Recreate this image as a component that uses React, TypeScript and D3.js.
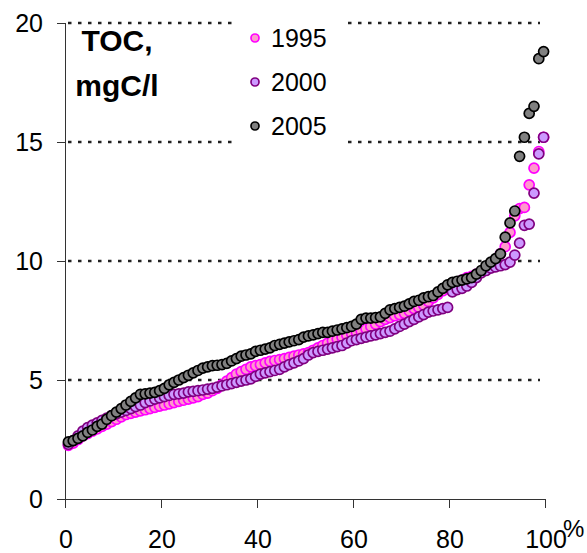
import React from "react";
import * as d3 from "d3";

const years = ["1995", "2000", "2005"];

const toc1995 = [
  2.25, 2.35, 2.5, 2.65, 2.75, 2.85, 2.95, 3.05, 3.15, 3.25,
  3.35, 3.45, 3.55, 3.6, 3.65, 3.7, 3.75, 3.8, 3.85, 3.9,
  3.95, 4.0, 4.05, 4.1, 4.15, 4.2, 4.25, 4.3, 4.4, 4.45,
  4.55, 4.65, 4.8, 4.95, 5.1, 5.25, 5.35, 5.45, 5.55, 5.6,
  5.65, 5.72, 5.78, 5.82, 5.86, 5.9, 5.95, 6.0, 6.05, 6.1,
  6.15, 6.25, 6.35, 6.45, 6.55, 6.65, 6.72, 6.8, 6.88, 6.95,
  7.0, 7.05, 7.15, 7.25, 7.35, 7.45, 7.55, 7.62, 7.7, 7.75,
  7.8, 7.9, 8.0, 8.05, 8.15, 8.3, 8.45, 8.6, 8.75, 8.9,
  9.0, 9.1, 9.2, 9.3, 9.35, 9.45, 9.55, 9.7, 9.85, 10.05,
  10.3, 10.6, 11.2, 11.9, 12.2, 12.25, 13.2, 13.9, 14.6, 15.2,
];

const toc2000 = [
  2.3, 2.45, 2.65, 2.85, 3.0, 3.1, 3.2, 3.3, 3.4, 3.5,
  3.58, 3.65, 3.72, 3.8, 3.88, 3.95, 4.05, 4.12, 4.2, 4.25,
  4.3, 4.35, 4.4, 4.42, 4.45, 4.5, 4.52, 4.55, 4.58, 4.62,
  4.65, 4.7, 4.75, 4.8, 4.85, 4.9, 4.95, 5.0, 5.05, 5.15,
  5.25, 5.3, 5.35, 5.4, 5.45, 5.55, 5.65, 5.72, 5.8, 5.9,
  6.05, 6.15, 6.2, 6.25, 6.3, 6.35, 6.4, 6.45, 6.55, 6.65,
  6.7, 6.75, 6.8, 6.85, 6.9, 6.95, 7.0, 7.05, 7.15, 7.25,
  7.35, 7.45, 7.55, 7.65, 7.75, 7.85, 7.9, 7.95, 8.0, 8.05,
  8.7, 8.8, 8.85, 8.95, 9.1, 9.3, 9.5, 9.6, 9.7, 9.75,
  9.8, 9.85, 9.95, 10.25, 10.75, 11.5, 11.55, 12.85, 14.5, 15.2,
];

const toc2005 = [
  2.4, 2.45, 2.55, 2.65, 2.8, 2.9, 3.05, 3.15, 3.35, 3.5,
  3.65, 3.8, 3.95, 4.1, 4.25, 4.4, 4.42, 4.45, 4.48, 4.55,
  4.65, 4.8, 4.9, 5.0, 5.1, 5.2, 5.3, 5.4, 5.5, 5.55,
  5.6, 5.62, 5.65, 5.7, 5.8, 5.9, 6.0, 6.05, 6.1, 6.2,
  6.25, 6.3, 6.35, 6.45, 6.5, 6.55, 6.6, 6.65, 6.7, 6.8,
  6.85, 6.9, 6.95, 7.0, 7.0, 7.05, 7.1, 7.15, 7.2, 7.25,
  7.35, 7.55, 7.6, 7.6, 7.62, 7.65, 7.8, 7.95, 8.0, 8.05,
  8.1, 8.2, 8.3, 8.35, 8.45, 8.5, 8.55, 8.7, 8.85, 9.0,
  9.1, 9.15, 9.2, 9.25, 9.3, 9.45, 9.6, 9.8, 9.95, 10.1,
  10.3, 11.0, 11.6, 12.1, 14.4, 15.2, 16.2, 16.5, 18.5, 18.8,
];

const seriesValues = [toc1995, toc2000, toc2005];
const fills = ["#ff99cc", "#cc99ff", "#808080"];
const strokes = ["#ff00ff", "#800080", "#000000"];

const xTicks = [0, 20, 40, 60, 80, 100];
const yTicks = [0, 5, 10, 15, 20];
const gridValues = [5, 10, 15, 20];

const W = 587;
const H = 553;
const FONT = "'Liberation Sans', Arial, sans-serif";

export default function App() {
  const x = d3.scaleLinear().domain([0, 100]).range([66, 546]);
  const y = d3.scaleLinear().domain([0, 20]).range([499, 23]);

  return (
    <svg
      width={W}
      height={H}
      style={{ position: "absolute", left: 0, top: 0, background: "#fff" }}
      fontFamily={FONT}
    >
      <rect x={0} y={0} width={W} height={H} fill="#fff" />
      {/* gridlines */}
      {gridValues.map((v) => (
        <line
          key={"g" + v}
          x1={x(0) + 2}
          x2={540}
          y1={y(v)}
          y2={y(v)}
          stroke="#222"
          strokeWidth={2.4}
          strokeDasharray="3.5,6.5"
        />
      ))}
      {/* legend background */}
      <rect x={233} y={8} width={110} height={144} fill="#fff" />
      {/* axes */}
      <line x1={x(0) - 0.5} x2={x(0) - 0.5} y1={y(20)} y2={y(0)} stroke="#333" strokeWidth={1} />
      <line x1={57} x2={x(100)} y1={y(0) + 0.5} y2={y(0) + 0.5} stroke="#333" strokeWidth={1} />
      {yTicks.map((v) => (
        <g key={"yt" + v}>
          <line x1={57} x2={x(0)} y1={Math.round(y(v)) + 0.5} y2={Math.round(y(v)) + 0.5} stroke="#333" />
          <text x={43} y={y(v) + 9} textAnchor="end" fontSize={25} fill="#000">
            {v}
          </text>
        </g>
      ))}
      {xTicks.map((v) => (
        <g key={"xt" + v}>
          <line x1={Math.round(x(v)) - 0.5} x2={Math.round(x(v)) - 0.5} y1={y(0)} y2={y(0) + 9} stroke="#333" />
          <text x={x(v)} y={548} textAnchor="middle" fontSize={25} fill="#000">
            {v}
          </text>
        </g>
      ))}
      <text x={563} y={537} fontSize={24} fill="#000">%</text>
      {/* title */}
      <text x={117} y={51} textAnchor="middle" fontSize={30} fontWeight="bold" fill="#000">
        TOC,
      </text>
      <text x={117} y={96} textAnchor="middle" fontSize={30} fontWeight="bold" fill="#000">
        mgC/l
      </text>
      {/* points */}
      {seriesValues.map((vals, s) => (
        <g key={"s" + s}>
          {vals.map((v, i) => (
            <circle
              key={i}
              cx={x(((i + 0.5) * 100) / vals.length)}
              cy={y(v)}
              r={5}
              fill={fills[s]}
              stroke={strokes[s]}
              strokeWidth={1.7}
            />
          ))}
        </g>
      ))}
      {/* legend */}
      {years.map((yr, s) => (
        <g key={"l" + yr}>
          <circle cx={255} cy={38 + s * 44} r={4} fill={fills[s]} stroke={strokes[s]} strokeWidth={1.7} />
          <text x={271} y={47 + s * 44} fontSize={25} fill="#000">
            {yr}
          </text>
        </g>
      ))}
    </svg>
  );
}
